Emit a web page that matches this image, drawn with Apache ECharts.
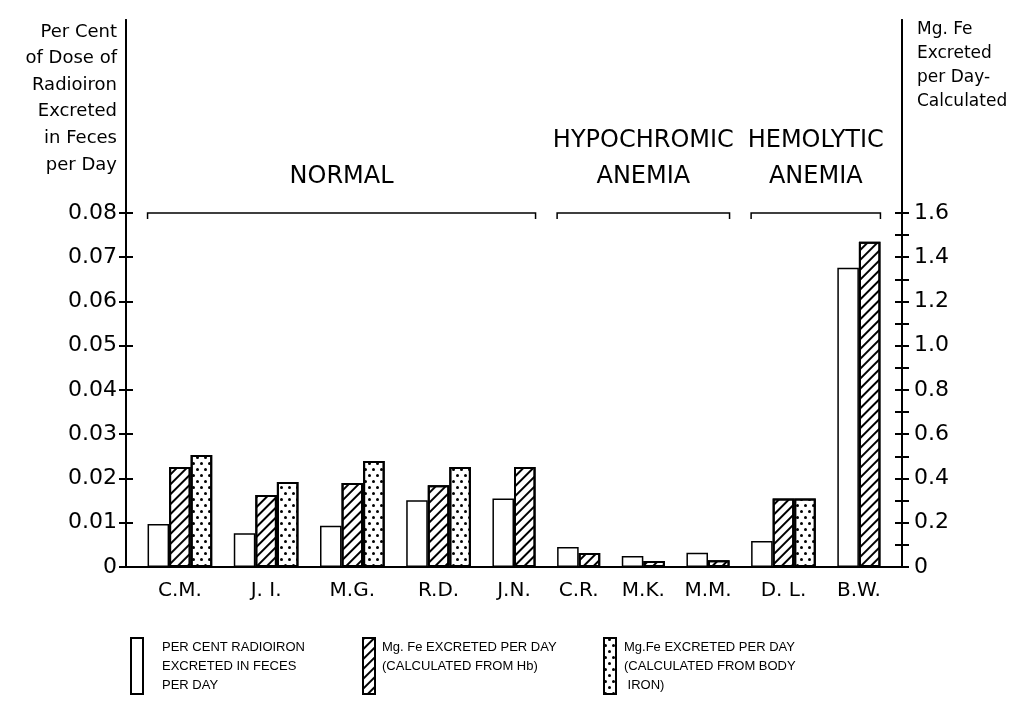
<!DOCTYPE html>
<html>
<head>
<meta charset="utf-8">
<script src="https://cdn.jsdelivr.net/npm/echarts@6/dist/echarts.min.js"></script>
<style>
  html, body { margin: 0; padding: 0; background: #fff; }
  #chart { width: 1023px; height: 702px; }
</style>
</head>
<body>
<div id="chart"></div>
<script>
// subjects, in order along the x axis
const subjects = ['C.M.', 'J. I.', 'M.G.', 'R.D.', 'J.N.', 'C.R.', 'M.K.', 'M.M.', 'D. L.', 'B.W.'];
const sectionNames = ['NORMAL', 'HYPOCHROMIC\nANEMIA', 'HEMOLYTIC\nANEMIA'];
const sectionSizes = [5, 3, 2];

// per cent of dose excreted per day (left axis)
const radioironPct = [0.0097, 0.0076, 0.0093, 0.0151, 0.0155, 0.0045, 0.0025, 0.0032, 0.0059, 0.0676];
// mg Fe excreted per day (right axis)
const mgFeHb = [0.452, 0.325, 0.38, 0.37, 0.452, 0.063, 0.027, 0.03, 0.31, 1.47];
const mgFeBody = [0.506, 0.384, 0.479, 0.452, null, null, null, null, 0.31, null];

const leftTicks = [0, 0.01, 0.02, 0.03, 0.04, 0.05, 0.06, 0.07, 0.08];
const rightTicks = [0, 0.1, 0.2, 0.3, 0.4, 0.5, 0.6, 0.7, 0.8, 0.9, 1.0, 1.1, 1.2, 1.3, 1.4, 1.5, 1.6];
const rightLabels = [0, 0.2, 0.4, 0.6, 0.8, 1.0, 1.2, 1.4, 1.6];

const leftTitle = ['Per Cent', 'of Dose of', 'Radioiron', 'Excreted', 'in Feces', 'per Day'];
const rightTitle = ['Mg. Fe', 'Excreted', 'per Day-', 'Calculated'];

const nameA = 'PER CENT RADIOIRON\nEXCRETED IN FECES\nPER DAY';
const nameB = 'Mg. Fe EXCRETED PER DAY\n(CALCULATED FROM Hb)';
const nameC = 'Mg.Fe EXCRETED PER DAY\n(CALCULATED FROM BODY\n IRON)';

// bars only take a slot when a value exists, one empty slot between subjects
const seriesValues = [radioironPct, mgFeHb, mgFeBody];
const seriesData = [[], [], []];
const groupStart = [], groupEnd = [];
let cursor = 0;
subjects.forEach((s, i) => {
  groupStart.push(cursor);
  seriesValues.forEach((vals, k) => {
    if (vals[i] != null) {
      seriesData[k].push([cursor + 0.5, vals[i]]);
      cursor++;
    }
  });
  groupEnd.push(cursor);
  cursor++;
});
const slotCount = cursor - 1;
const groupCenters = subjects.map((s, i) => (groupStart[i] + groupEnd[i]) / 2);

const sectionData = [];
let g = 0;
sectionSizes.forEach(n => {
  sectionData.push([groupStart[g], groupEnd[g + n - 1], 0.08]);
  g += n;
});

const leftMax = 0.1236;
const rightMax = leftMax * 20;
const font = 'DejaVu Sans';

const hatch = {
  symbol: 'rect', symbolSize: 1, color: '#000',
  dashArrayX: [1, 0], dashArrayY: [1.6, 4.2], rotation: -Math.PI / 4
};
const dots = {
  symbol: 'circle', symbolSize: 1, color: '#000',
  dashArrayX: [[2.2, 4.2], [0, 3.2, 2.2, 1]], dashArrayY: [2.2, 2.4], rotation: 0
};

const chart = echarts.init(document.getElementById('chart'));

function legendOf(name, left, gap) {
  return {
    data: [name], left: left, top: 636, orient: 'vertical', padding: 0,
    icon: 'rect', itemWidth: 12, itemHeight: 56, itemGap: 0,
    selectedMode: false,
    formatter: n => n.split('\n').length < 3 ? n + '\n ' : n,
    textStyle: { fontFamily: 'Liberation Sans', fontSize: 13, color: '#000', lineHeight: 19, padding: [3, 0, 0, gap] }
  };
}

// ticks cross the axis line: one axis draws them outside, a twin draws them inside
function tickAxis(position, max, ticks, inside) {
  return {
    type: 'value', position: position, min: 0, max: max,
    axisLine: { show: true, onZero: false, lineStyle: { color: '#000', width: 2 } },
    axisTick: { show: true, inside: inside, length: 7, customValues: ticks, lineStyle: { color: '#000', width: 2 } },
    axisLabel: { show: false },
    splitLine: { show: false }
  };
}

const leftAxis = tickAxis('left', leftMax, leftTicks, false);
leftAxis.axisLabel = {
  show: true, customValues: leftTicks, margin: 9,
  formatter: v => v === 0 ? '0' : v.toFixed(2),
  fontFamily: font, fontSize: 22, color: '#000'
};
const rightAxis = tickAxis('right', rightMax, rightTicks, false);
rightAxis.axisLabel = {
  show: true, customValues: rightLabels, margin: 12,
  formatter: v => v === 0 ? '0' : v.toFixed(1),
  fontFamily: font, fontSize: 22, color: '#000'
};

const titleText = [];
leftTitle.forEach((t, i) => {
  titleText.push({
    type: 'text', right: 1023 - 117, top: 32 + i * 26.6 - 10,
    style: { text: t, font: '18px "DejaVu Sans"', lineHeight: 20, fill: '#000' }
  });
});
rightTitle.forEach((t, i) => {
  titleText.push({
    type: 'text', left: 917, top: 30 + i * 24 - 10,
    style: { text: t, font: '17px "DejaVu Sans"', lineHeight: 20, fill: '#000' }
  });
});

chart.setOption({
  animation: false,
  backgroundColor: '#fff',
  grid: { left: 126, right: 121, top: 20, bottom: 135, containLabel: false, outerBoundsMode: 'none' },
  legend: [legendOf(nameA, 130, 14), legendOf(nameB, 362, 2), legendOf(nameC, 603, 3)],
  graphic: titleText,
  xAxis: {
    type: 'value', min: -1, max: slotCount + 1,
    axisLine: { show: true, onZero: false, lineStyle: { color: '#000', width: 2 } },
    axisTick: { show: false },
    splitLine: { show: false },
    axisLabel: {
      customValues: groupCenters, margin: 14,
      formatter: v => {
        const i = groupCenters.findIndex(c => Math.abs(c - v) < 1e-6);
        return i < 0 ? '' : subjects[i];
      },
      fontFamily: font, fontSize: 20, color: '#000'
    }
  },
  yAxis: [
    leftAxis,
    rightAxis,
    tickAxis('left', leftMax, leftTicks, true),
    tickAxis('right', rightMax, rightTicks, true)
  ],
  series: [
    {
      name: nameA, type: 'bar', yAxisIndex: 0, data: seriesData[0],
      barWidth: '100%', barGap: '-100%',
      itemStyle: { color: '#fff', borderColor: '#000', borderWidth: 1.5 }
    },
    {
      name: nameB, type: 'bar', yAxisIndex: 1, data: seriesData[1],
      barWidth: '100%', barGap: '-100%',
      itemStyle: { color: '#fff', borderColor: '#000', borderWidth: 2, decal: hatch }
    },
    {
      name: nameC, type: 'bar', yAxisIndex: 1, data: seriesData[2],
      barWidth: '100%', barGap: '-100%',
      itemStyle: { color: '#fff', borderColor: '#000', borderWidth: 2, decal: dots }
    },
    {
      type: 'custom', yAxisIndex: 0, data: sectionData, clip: false, silent: true,
      encode: { x: [0, 1], y: 2 },
      renderItem: (params, api) => {
        const a = api.coord([api.value(0), api.value(2)]);
        const b = api.coord([api.value(1), api.value(2)]);
        return {
          type: 'group',
          children: [
            {
              type: 'polyline',
              shape: { points: [[a[0], a[1] + 6], a, b, [b[0], b[1] + 6]] },
              style: { stroke: '#000', lineWidth: 1.5, fill: null }
            },
            {
              type: 'text',
              style: {
                text: sectionNames[params.dataIndex],
                x: (a[0] + b[0]) / 2, y: a[1] - 18,
                align: 'center', verticalAlign: 'bottom',
                font: '24px "DejaVu Sans"', lineHeight: 36, fill: '#000'
              }
            }
          ]
        };
      }
    }
  ]
});
</script>
</body>
</html>
